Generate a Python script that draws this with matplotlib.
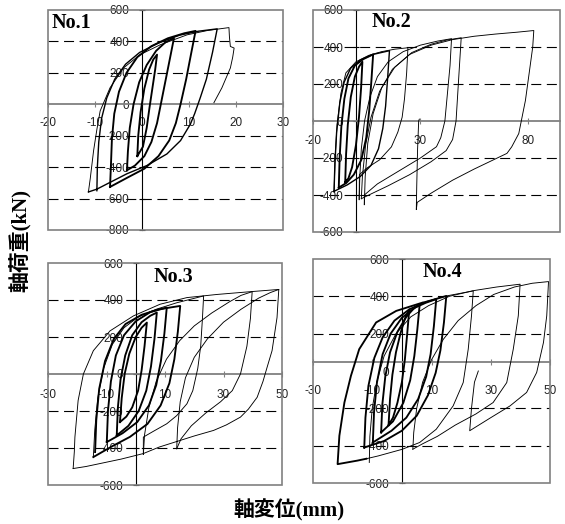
import matplotlib
matplotlib.use("Agg")
import matplotlib.pyplot as plt
from matplotlib.patches import Rectangle

plt.rcParams['font.family'] = ['Liberation Sans', 'Arial', 'DejaVu Sans']
plt.rcParams['axes.unicode_minus'] = False

# ---- No.1 : loops, (disp mm, load kN) ----
no1_thick = [
    [(-1.0, -330), (-0.8, -200), (-0.3, -50), (0.5, 100), (1.5, 220), (2.4, 285), (3.2, 316),
     (2.8, 220), (2.2, 100), (1.6, -20), (1.0, -150), (0.2, -270), (-1.0, -330)],
    [(-3.2, -420), (-3.0, -300), (-2.6, -150), (-1.8, 0), (-0.6, 140), (1.0, 250), (3.0, 340),
     (5.0, 395), (6.8, 421), (6.0, 300), (5.0, 150), (4.0, 0), (3.2, -120), (2.0, -240),
     (0.5, -330), (-1.5, -390), (-3.2, -420)],
    [(-6.8, -526), (-6.6, -380), (-6.4, -220), (-5.9, -60), (-4.9, 80), (-3.3, 200), (-1.0, 300),
     (2.0, 370), (5.5, 420), (9.0, 452), (11.4, 467), (10.5, 330), (9.4, 160), (8.2, 0),
     (7.2, -120), (5.8, -230), (3.5, -330), (0.5, -410), (-3.0, -465), (-6.8, -526)],
]
no1_medium = [
    [(-9.6, -550), (-9.5, -400), (-9.2, -240), (-8.6, -90), (-7.5, 40), (-5.8, 160), (-3.5, 255),
     (-0.5, 330), (3.5, 390), (8.0, 440), (12.0, 465), (16.0, 480), (15.0, 330), (13.7, 160),
     (12.4, 42), (11.2, -60), (10.3, -126), (8.2, -231), (5.3, -316), (1.1, -389), (-3.2, -442),
     (-7.0, -500), (-9.6, -540), (-11.4, -558)],
]
no1_thin = [
    [(-11.4, -558), (-11.0, -470), (-10.3, -295), (-9.6, -160), (-8.9, -42), (-6.8, 105),
     (-3.9, 232), (-0.4, 316), (3.9, 379), (9.6, 442), (14.0, 470), (18.5, 488), (18.6, 430),
     (18.8, 368), (19.6, 358), (19.3, 300), (18.8, 231), (17.0, 105), (15.3, 10)],
]

# ---- No.2 ----
no2_thick = [
    [(-5.0, -330), (-4.6, -180), (-3.8, -20), (-2.4, 130), (-0.5, 240), (1.5, 295), (3.0, 320),
     (2.4, 180), (1.4, 20), (0.0, -130), (-1.8, -250), (-3.5, -310), (-5.0, -330)],
    [(-8.0, -360), (-7.6, -200), (-6.8, -30), (-5.4, 120), (-3.5, 230), (-0.5, 300), (3.5, 335),
     (8.0, 360), (7.2, 220), (6.2, 60), (4.8, -90), (2.5, -210), (-1.0, -290), (-4.5, -335),
     (-8.0, -360)],
]
no2_medium = [
    [(-10.2, -380), (-9.8, -230), (-9.0, -60), (-7.5, 100), (-5.5, 210), (-2.5, 285), (2.0, 330),
     (8.0, 360), (15.6, 380), (14.8, 240), (13.8, 80), (12.5, -40), (10.5, -150), (7.0, -240),
     (2.0, -300), (-4.0, -345), (-10.2, -380)],
]
no2_thin = [
    [(-10.2, -385), (-9.7, -200), (-8.8, -20), (-7.0, 150), (-4.7, 260), (0.0, 320), (6.0, 355),
     (12.0, 375), (18.0, 388), (24.2, 396), (23.6, 260), (22.6, 120), (21.5, 20), (19.5, -60),
     (16.5, -140), (11.0, -210), (5.0, -255), (1.6, -290), (1.5, -425)],
    [(1.5, -425), (1.8, -300), (2.5, -150), (4.0, 0), (6.5, 130), (10.0, 240), (15.0, 320),
     (22.0, 375), (30.0, 410), (38.0, 432), (44.5, 445), (43.8, 300), (42.6, 150), (41.4, 0),
     (39.5, -90), (37.5, -139), (30.0, -200), (20.0, -270), (10.0, -340), (3.9, -400), (3.9, -452)],
    [(3.9, -452), (4.3, -300), (5.5, -120), (8.0, 40), (12.0, 180), (18.0, 290), (26.0, 370),
     (35.0, 415), (42.0, 437), (49.0, 450), (48.2, 300), (47.4, 150), (46.6, 0), (45.0, -100),
     (42.0, -160), (35.0, -220), (25.0, -290), (15.0, -350), (6.0, -400), (2.5, -420)],
    [(2.5, -420), (3.0, -300), (4.5, -130), (7.0, 20), (11.0, 160), (17.0, 280), (25.0, 360),
     (35.0, 410), (45.0, 440), (55.0, 458), (65.0, 470), (75.0, 480), (82.8, 489), (82.3, 400),
     (81.0, 289), (78.9, 111), (75.8, -68), (72.5, -140), (70.3, -175), (64.0, -210),
     (55.0, -260), (45.0, -320), (35.0, -390), (28.5, -440), (28.1, -479), (28.3, -350),
     (28.7, -150), (29.2, 0), (29.5, 10)],
]

# ---- No.3 ----
no3_thick = [
    [(-5.4, -260), (-4.8, -130), (-3.8, 0), (-2.2, 110), (0.0, 200), (2.0, 250), (3.8, 278),
     (3.0, 150), (2.0, 20), (0.8, -90), (-1.2, -180), (-3.2, -230), (-5.4, -260)],
    [(-6.5, -332), (-6.1, -180), (-5.2, -30), (-3.6, 100), (-1.2, 210), (2.0, 280), (5.0, 315),
     (7.2, 332), (6.4, 190), (5.2, 40), (3.6, -90), (1.0, -200), (-2.5, -280), (-6.5, -332)],
    [(-9.9, -368), (-9.5, -200), (-8.5, -40), (-6.8, 100), (-4.0, 210), (0.0, 285), (5.0, 335),
     (10.6, 359), (9.8, 220), (8.6, 70), (7.0, -60), (4.5, -170), (0.5, -260), (-4.5, -320),
     (-9.9, -368)],
    [(-13.9, -422), (-13.5, -250), (-12.5, -80), (-10.5, 70), (-7.5, 190), (-3.5, 270), (2.0, 320),
     (8.0, 350), (15.2, 368), (14.4, 230), (13.2, 80), (11.5, -50), (8.5, -170), (4.0, -270),
     (-2.0, -340), (-8.0, -390), (-14.5, -449)],
]
no3_medium = []
no3_thin = [
    [(-14.5, -449), (-14.0, -300), (-13.0, -130), (-11.0, 30), (-8.0, 160), (-4.0, 250), (1.0, 310),
     (7.0, 350), (14.0, 385), (19.0, 405), (23.2, 422), (22.8, 300), (22.2, 150), (21.2, 30),
     (19.5, -90), (17.5, -161), (14.0, -225), (10.6, -269), (6.0, -310), (2.6, -341), (2.6, -435)],
    [(2.6, -435), (3.0, -330), (4.5, -180), (7.0, -40), (10.5, 80), (15.0, 180), (20.0, 260),
     (26.0, 330), (32.0, 390), (36.0, 425), (39.8, 445), (39.2, 300), (38.0, 150), (35.8, 0),
     (33.0, -90), (29.0, -150), (24.0, -210), (19.0, -280), (15.5, -350), (14.0, -404)],
    [(14.0, -404), (14.3, -290), (15.2, -150), (17.0, -20), (20.0, 90), (24.5, 190), (30.0, 280),
     (36.0, 350), (42.0, 410), (46.0, 440), (48.9, 457), (48.3, 305), (46.6, 126), (44.9, 36),
     (43.5, -40), (41.5, -126), (38.5, -190), (35.8, -233), (31.0, -275), (26.6, -305),
     (20.0, -335), (15.2, -359), (8.0, -395), (2.6, -430), (-5.0, -460), (-12.2, -484),
     (-17.0, -500), (-21.4, -511)],
    [(-21.4, -511), (-21.0, -420), (-20.8, -341), (-19.7, -143), (-17.9, 0), (-14.5, 126),
     (-8.8, 233), (-0.8, 314), (8.3, 377), (17.5, 413), (27.8, 430), (39.2, 445), (48.9, 457)],
]

# ---- No.4 ----
no4_thick = [
    [(-4.5, -290), (-4.0, -150), (-3.2, -20), (-2.0, 100), (-0.5, 200), (1.0, 280), (2.5, 330),
     (1.8, 200), (1.0, 60), (0.0, -60), (-1.5, -170), (-3.0, -250), (-4.5, -290)],
    [(-7.0, -329), (-6.6, -180), (-5.6, -30), (-4.0, 100), (-1.5, 210), (1.5, 290), (4.0, 335),
     (6.0, 355), (5.2, 220), (4.2, 80), (2.8, -50), (0.5, -170), (-3.0, -270), (-7.0, -329)],
    [(-9.8, -383), (-9.4, -220), (-8.4, -60), (-6.5, 90), (-3.8, 200), (0.0, 285), (4.5, 340),
     (8.0, 365), (11.6, 385), (10.8, 240), (9.7, 90), (8.2, -30), (5.5, -150), (1.5, -250),
     (-3.5, -320), (-9.8, -383)],
    [(-12.7, -410), (-12.3, -250), (-11.3, -80), (-9.3, 70), (-6.5, 180), (-2.5, 270), (2.5, 330),
     (8.0, 370), (15.0, 402), (14.2, 260), (13.0, 110), (11.4, -10), (8.8, -130), (5.0, -240),
     (0.0, -320), (-6.0, -375), (-12.7, -410)],
    [(-12.0, -470), (-15.0, -480), (-21.7, -499), (-21.1, -347), (-19.4, -169), (-17.2, -26),
     (-14.4, 117), (-8.7, 260), (-1.9, 322), (7.1, 367)],
]
no4_medium = []
no4_thin = [
    [(7.1, 367), (15.0, 402), (24.1, 429), (23.5, 296), (22.4, 117), (20.7, -62),
     (17.3, -187), (11.6, -312), (6.0, -383), (0.0, -420), (-8.0, -455), (-12.0, -470)],
    [(-11.0, -490), (-10.8, -350), (-10.0, -200), (-8.5, -60), (-6.0, 80), (-2.0, 200), (3.0, 290),
     (9.0, 350), (16.0, 400), (24.0, 430), (32.0, 450), (39.9, 465), (39.3, 296), (37.6, 117),
     (35.4, -62), (30.8, -169), (25.0, -230), (18.0, -290), (12.0, -350), (7.0, -390), (3.7, -419)],
    [(3.7, -419), (4.0, -330), (5.0, -200), (7.0, -60), (10.0, 60), (14.0, 170), (19.0, 270),
     (25.0, 350), (31.0, 410), (38.0, 450), (44.0, 470), (49.5, 479), (48.9, 296), (47.8, 153),
     (45.5, -8), (42.1, -115), (36.5, -187), (30.0, -250), (22.9, -320), (23.5, -200),
     (24.5, -60), (25.8, 0)],
]

panel_names = ["No.1", "No.2", "No.3", "No.4"]
x_ticks = [[-20, -10, 0, 10, 20, 30], [-20, 30, 80], [-30, -10, 10, 30, 50], [-30, -10, 10, 30, 50]]
y_ticks = [[-800, -600, -400, -200, 0, 200, 400, 600],
           [-600, -400, -200, 0, 200, 400, 600],
           [-600, -400, -200, 0, 200, 400, 600],
           [-600, -400, -200, 0, 200, 400, 600]]
x_limits = [(-20, 30), (-20, 95), (-30, 50), (-30, 50)]
y_limits = [(-800, 600), (-600, 600), (-600, 600), (-600, 600)]
x_axis_level = [0, 0, 0, 50]


def px_rect(l, t, r, b):
    return [l / 565, 1 - b / 524, (r - l) / 565, (b - t) / 524]


boxes = [px_rect(48, 10, 283, 230), px_rect(313, 10, 560, 232),
         px_rect(48, 263, 282, 485), px_rect(313, 259, 550, 483)]
title_pos = [(0.017, 0.985), (0.239, 0.99), (0.449, 0.98), (0.464, 0.985)]
xlabel_pad = [7, 8, 9, 15]

fig = plt.figure(figsize=(5.65, 5.24), dpi=100)

data = [(no1_thick, no1_medium, no1_thin), (no2_thick, no2_medium, no2_thin),
        (no3_thick, no3_medium, no3_thin), (no4_thick, no4_medium, no4_thin)]

for i in range(4):
    ax = fig.add_axes(boxes[i])
    thick, medium, thin = data[i]
    for loops, lw in ((thin, 0.65), (medium, 1.0), (thick, 1.35)):
        for loop in loops:
            ax.plot([p[0] for p in loop], [p[1] for p in loop], color="black", lw=lw, zorder=3)

    ax.set_xlim(*x_limits[i])
    ax.set_ylim(*y_limits[i])
    ax.set_xticks(x_ticks[i])
    ax.set_yticks(y_ticks[i])

    # spines crossing inside the plot, frame drawn as a grey box
    ax.spines["top"].set_visible(False)
    ax.spines["right"].set_visible(False)
    ax.spines["left"].set_position(("data", 0))
    ax.spines["bottom"].set_position(("data", x_axis_level[i]))
    ax.spines["left"].set_color("black")
    ax.spines["left"].set_linewidth(0.8)
    ax.spines["bottom"].set_color("#808080")
    ax.spines["bottom"].set_linewidth(1.3)
    ax.add_patch(Rectangle((0, 0), 1, 1, transform=ax.transAxes, fill=False,
                           edgecolor="#808080", lw=1.2, clip_on=False, zorder=4))

    for y in y_ticks[i]:
        if y_limits[i][0] < y < y_limits[i][1] and y != 0:
            ax.axhline(y, color="black", lw=0.8, linestyle=(0, (9, 5)), zorder=1)

    ax.tick_params(axis="y", direction="inout", length=4, width=0.8, pad=7,
                   labelsize=8.5, labelcolor="#222222")
    ax.tick_params(axis="x", direction="inout", length=4, width=0.8, color="#808080",
                   pad=xlabel_pad[i], labelsize=8.5, labelcolor="#222222")

    ax.text(title_pos[i][0], title_pos[i][1], panel_names[i], transform=ax.transAxes,
            ha="left", va="top", fontsize=14.5, fontweight="bold",
            family=["Liberation Serif"], zorder=5)

fig.text(21 / 565, 1 - 240 / 524, "軸荷重(kN)", rotation=90, ha="center", va="center",
         fontsize=15, fontweight="bold", family=["Liberation Serif", "Noto Sans CJK JP"])
fig.text(289 / 565, 1 - 510 / 524, "軸変位(mm)", ha="center", va="center",
         fontsize=15, fontweight="bold", family=["Liberation Serif", "Noto Sans CJK JP"])

fig.savefig("out.png", dpi=100)
